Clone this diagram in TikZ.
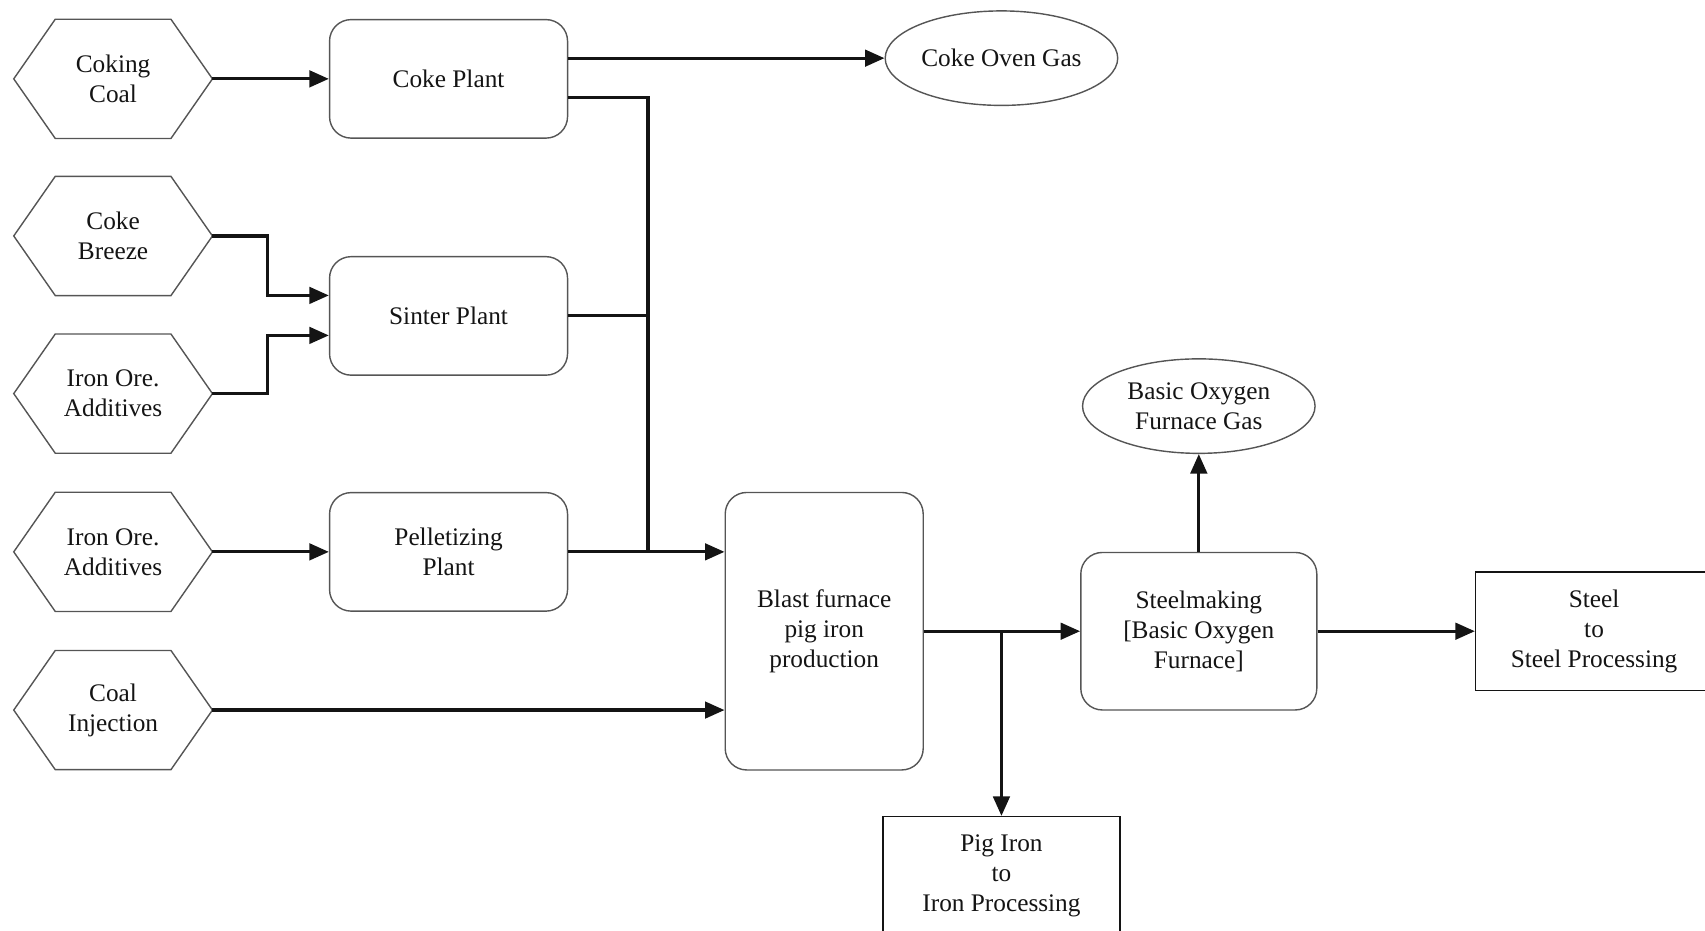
\documentclass[tikz,border=0pt]{standalone}
\usepackage{fontspec}
\setmainfont{Liberation Serif}
\usepackage{tikz}
\usetikzlibrary{arrows.meta,shapes.geometric}
\definecolor{ink}{RGB}{20,20,20}
\definecolor{edge}{RGB}{85,85,85}
\tikzset{
  flow/.style={line width=1.8pt,ink,-{Triangle[length=3.9mm,width=3.3mm]}},
  feed/.style={line width=1.8pt,ink},
  label/.style={font=\fontsize{14.4}{17}\selectfont,align=center,text=ink},
  source/.style={label,minimum width=3.96cm,minimum height=2.37cm,inner sep=0pt},
  hexline/.style={draw=edge,line width=0.8pt,line join=miter},
  plant/.style={label,draw=edge,line width=0.8pt,rounded corners=0.43cm,
    minimum width=4.76cm,minimum height=2.37cm},
  gas/.style={label,draw=edge,line width=0.8pt,ellipse,
    minimum width=4.65cm,minimum height=1.89cm,inner sep=0pt},
  product/.style={label,draw=ink,line width=0.8pt,
    minimum width=4.74cm,minimum height=2.37cm}
}

\begin{document}
\begin{tikzpicture}
  \useasboundingbox (0,0) rectangle (34.10,-18.616);
  % raw materials
  \node[source] (coal)   at (2.262,-1.577)  {Coking\\Coal};
  \node[source] (breeze) at (2.262,-4.719)  {Coke\\Breeze};
  \node[source] (oreA)   at (2.262,-7.872)  {Iron Ore.\\Additives};
  \node[source] (oreB)   at (2.262,-11.037) {Iron Ore.\\Additives};
  \node[source] (inject) at (2.262,-14.201) {Coal\\Injection};
  \foreach \h in {coal,breeze,oreA,oreB,inject}
    \draw[hexline] (\h.west) -- ([xshift=0.83cm]\h.north west)
      -- ([xshift=-0.83cm]\h.north east) -- (\h.east)
      -- ([xshift=-0.83cm]\h.south east) -- ([xshift=0.83cm]\h.south west) -- cycle;
  % plants
  \node[plant] (coke)   at (8.971,-1.577)  {Coke Plant};
  \node[plant] (sinter) at (8.971,-6.318)  {Sinter Plant};
  \node[plant] (pellet) at (8.971,-11.037) {Pelletizing\\Plant};
  \node[plant,minimum width=3.96cm,minimum height=5.55cm] (blast) at (16.484,-12.624)
    {Blast furnace\\pig iron\\production};
  \node[plant,minimum width=4.72cm,minimum height=3.15cm] (bof) at (23.976,-12.624)
    {Steelmaking\\{[}Basic Oxygen\\Furnace{]}};
  % gases and products
  \node[gas] (cog)  at (20.029,-1.163) {Coke Oven Gas};
  \node[gas] (bofg) at (23.976,-8.122) {Basic Oxygen\\Furnace Gas};
  \node[product] (pig)   at (20.029,-17.517) {Pig Iron\\to\\Iron Processing};
  \node[product] (steel) at (31.881,-12.624) {Steel\\to\\Steel Processing};
  \coordinate (jn) at (12.961,-11.037);
  % connectors
  \draw[flow] (coal) -- (coke);
  \draw[flow] (coke.east |- cog.west) -- (cog.west);
  \draw[feed] ([yshift=-0.38cm]coke.east) -| (jn);
  \draw[feed] (sinter.east) -- (sinter.east -| jn);
  \draw[flow] (breeze.east) -- ++(1.109,0) |- ([yshift=0.41cm]sinter.west);
  \draw[flow] (oreA.east) -- ++(1.109,0) |- ([yshift=-0.39cm]sinter.west);
  \draw[flow] (oreB) -- (pellet);
  \draw[flow] (pellet.east) -- (pellet.east -| blast.west);
  \draw[flow] (inject.east) -- (inject.east -| blast.west);
  \draw[flow] (blast.east) -- (bof.west);
  \draw[flow] (blast.east -| pig.north) -- (pig.north);
  \draw[flow] (bof.north) -- (bofg.south);
  \draw[flow] (bof.east) -- (bof.east -| steel.west);
\end{tikzpicture}
\end{document}
